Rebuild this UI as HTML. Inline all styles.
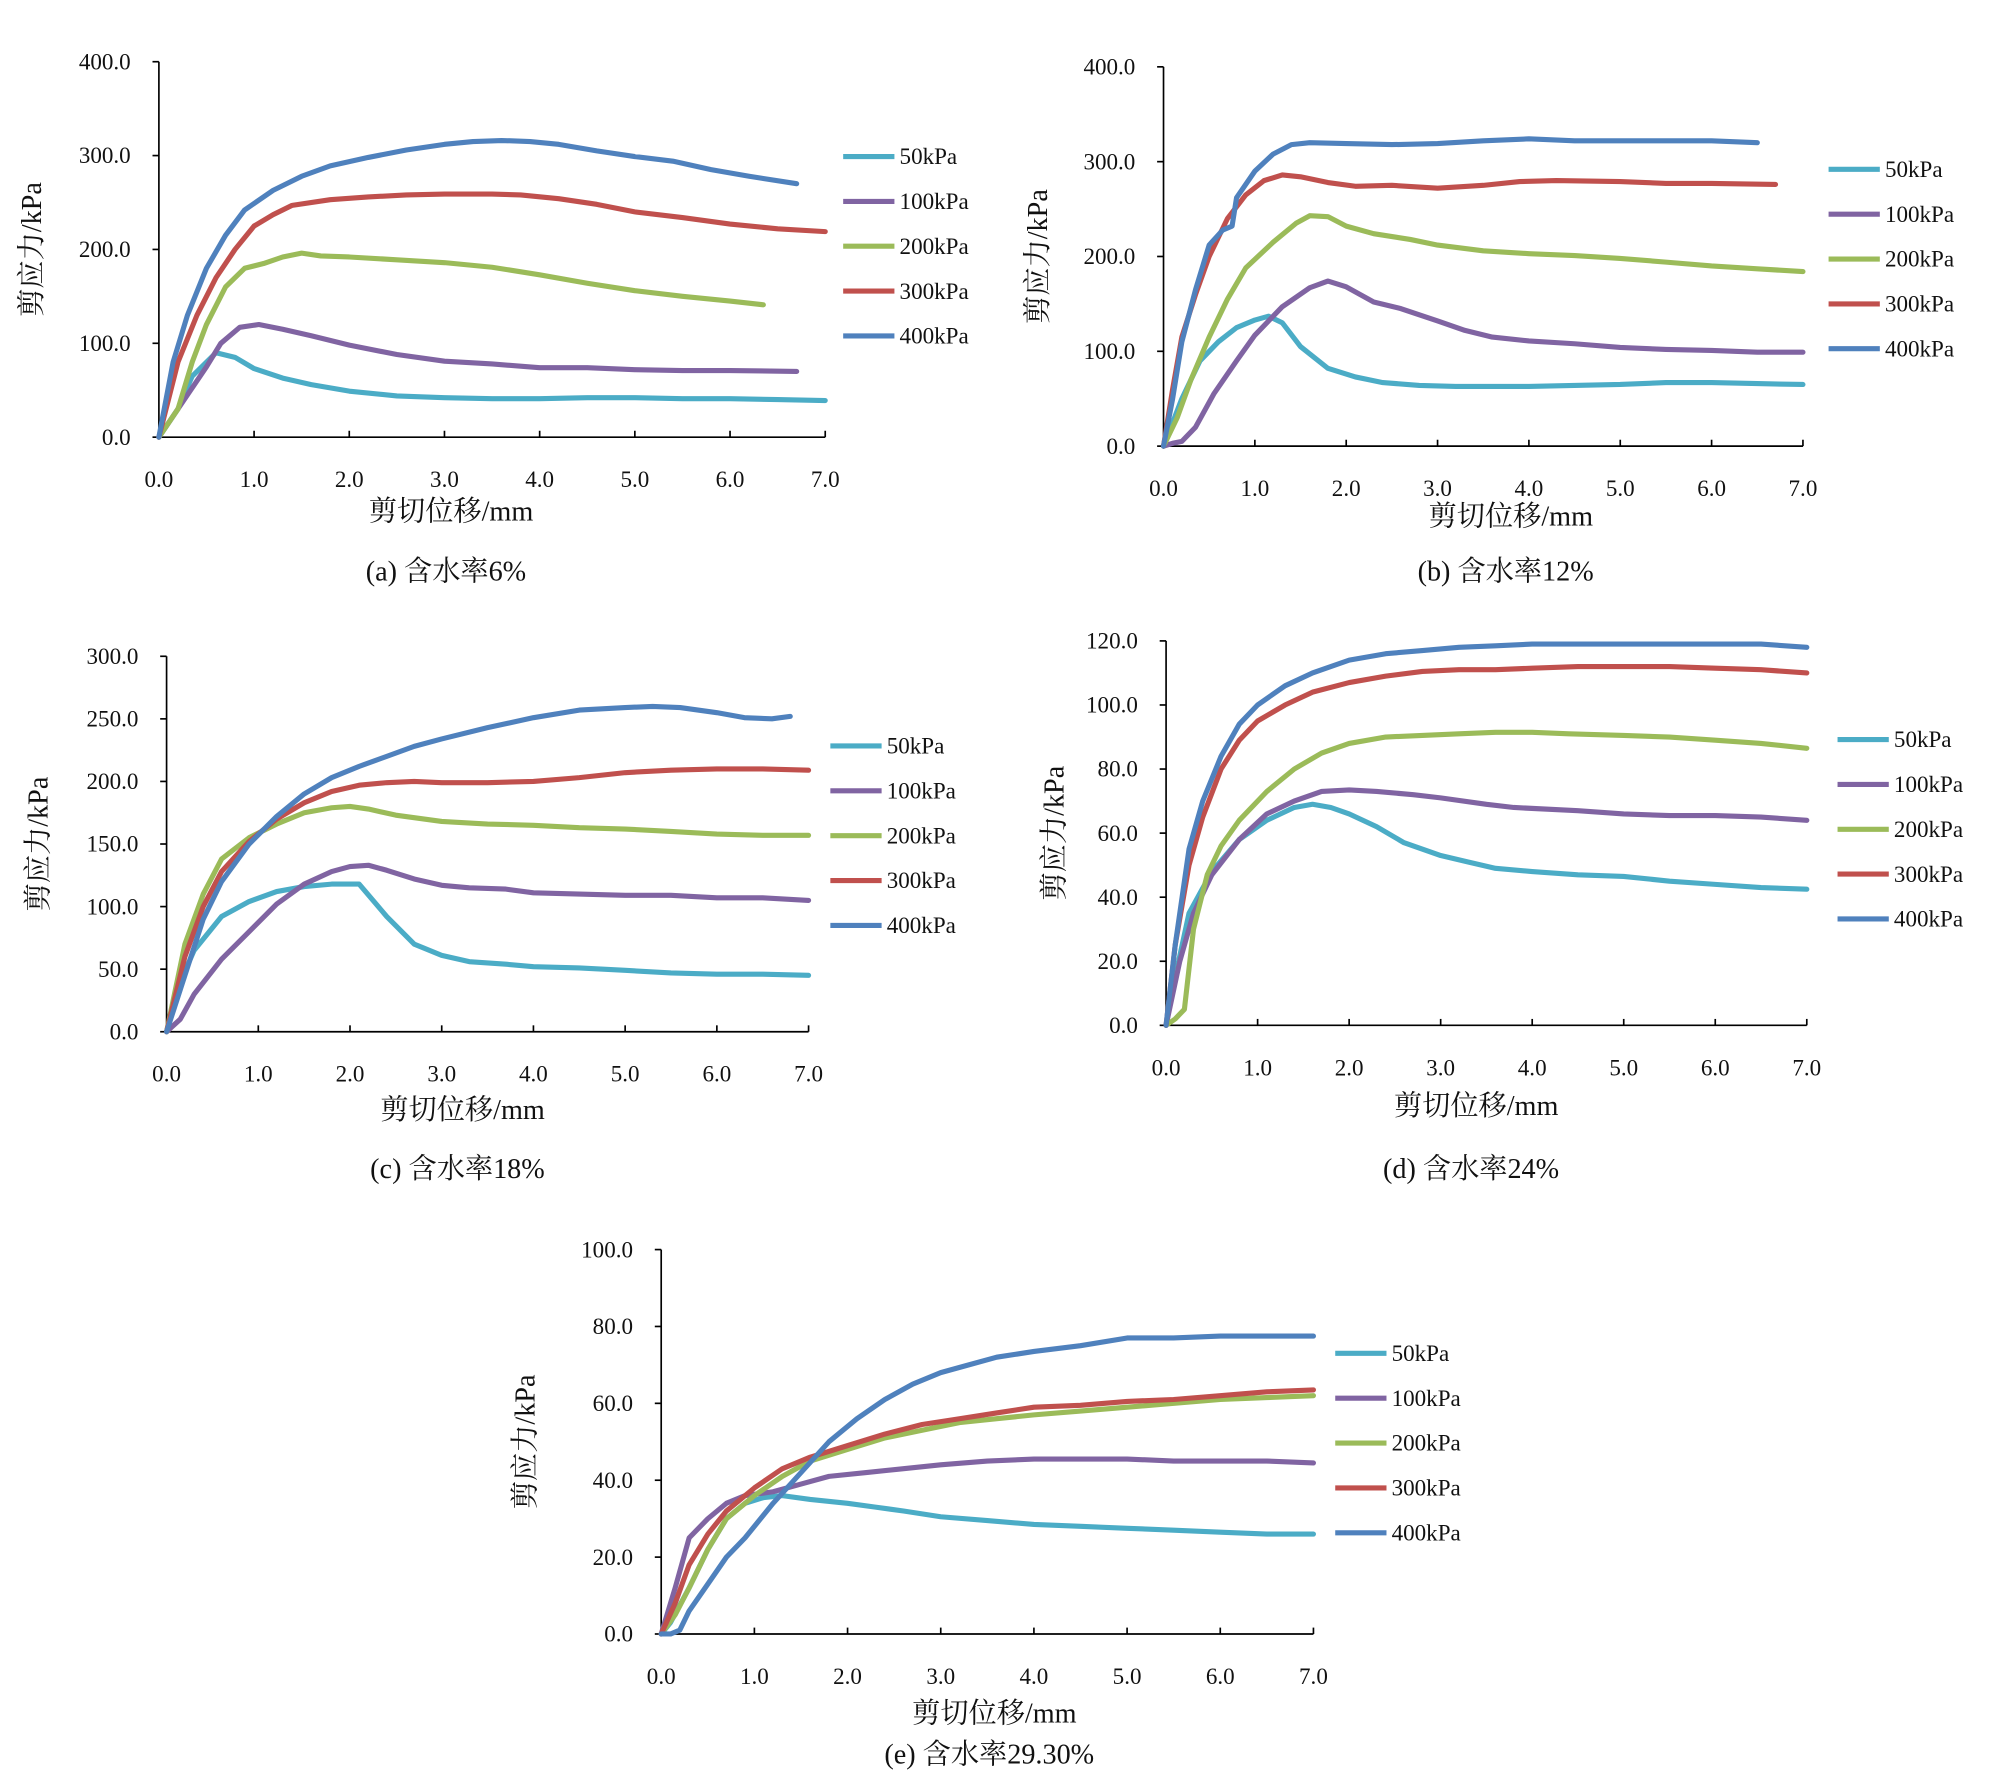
<!DOCTYPE html>
<html><head><meta charset="utf-8"><style>
html,body{margin:0;padding:0;background:#fff}
svg{display:block}
text{font-family:"Liberation Serif","Noto Serif CJK SC","Noto Sans CJK SC",serif;fill:#111}
</style></head><body>
<svg id="fig" width="1999" height="1779" viewBox="0 0 1560 1388" xmlns="http://www.w3.org/2000/svg"></svg>
<script>
const seriesNames=["50kPa","100kPa","200kPa","300kPa","400kPa"];
const seriesColors=["#4bacc6","#8064a2","#9bbb59","#c0504d","#4f81bd"];
const xTicks=[0,1,2,3,4,5,6,7];
const a50=[[0,0],[0.2,30],[0.35,65],[0.6,90],[0.8,85],[1.0,73],[1.3,63],[1.6,56],[2.0,49],[2.5,44],[3.0,42],[3.5,41],[4.0,41],[4.5,42],[5.0,42],[5.5,41],[6.0,41],[6.5,40],[7.0,39]];
const a100=[[0,0],[0.3,45],[0.5,75],[0.65,100],[0.85,117],[1.05,120],[1.3,115],[1.6,108],[2.0,98],[2.5,88],[3.0,81],[3.5,78],[4.0,74],[4.5,74],[5.0,72],[5.5,71],[6.0,71],[6.7,70]];
const a200=[[0,0],[0.2,30],[0.35,80],[0.5,120],[0.7,160],[0.9,180],[1.1,185],[1.3,192],[1.5,196],[1.7,193],[2.0,192],[2.5,189],[3.0,186],[3.5,181],[4.0,173],[4.5,164],[5.0,156],[5.5,150],[6.0,145],[6.35,141]];
const a300=[[0,0],[0.2,80],[0.4,130],[0.6,170],[0.8,200],[1.0,225],[1.2,237],[1.4,247],[1.8,253],[2.2,256],[2.6,258],[3.0,259],[3.5,259],[3.8,258],[4.2,254],[4.6,248],[5.0,240],[5.5,234],[6.0,227],[6.5,222],[7.0,219]];
const a400=[[0,0],[0.15,80],[0.3,130],[0.5,180],[0.7,215],[0.9,242],[1.2,263],[1.5,278],[1.8,289],[2.2,298],[2.6,306],[3.0,312],[3.3,315],[3.6,316],[3.9,315],[4.2,312],[4.6,305],[5.0,299],[5.4,294],[5.8,285],[6.2,278],[6.7,270]];
const b50=[[0,0],[0.2,50],[0.4,90],[0.6,110],[0.8,125],[1.0,133],[1.15,137],[1.3,130],[1.5,105],[1.8,82],[2.1,73],[2.4,67],[2.8,64],[3.2,63],[3.6,63],[4.0,63],[4.5,64],[5.0,65],[5.5,67],[6.0,67],[6.5,66],[7.0,65]];
const b100=[[0,0],[0.1,3],[0.2,5],[0.35,20],[0.55,55],[0.8,90],[1.0,117],[1.3,147],[1.6,167],[1.8,174],[2.0,168],[2.3,152],[2.6,145],[3.0,132],[3.3,122],[3.6,115],[4.0,111],[4.5,108],[5.0,104],[5.5,102],[6.0,101],[6.5,99],[7.0,99]];
const b200=[[0,0],[0.15,30],[0.3,70],[0.5,115],[0.7,155],[0.9,188],[1.2,215],[1.45,235],[1.6,243],[1.8,242],[2.0,232],[2.3,224],[2.7,218],[3.0,212],[3.5,206],[4.0,203],[4.5,201],[5.0,198],[5.5,194],[6.0,190],[6.5,187],[7.0,184]];
const b300=[[0,0],[0.1,60],[0.2,115],[0.35,160],[0.5,200],[0.7,240],[0.9,265],[1.1,280],[1.3,286],[1.5,284],[1.8,278],[2.1,274],[2.5,275],[3.0,272],[3.5,275],[3.9,279],[4.3,280],[5.0,279],[5.5,277],[6.0,277],[6.7,276]];
const b400=[[0,0],[0.1,50],[0.2,110],[0.35,165],[0.5,212],[0.65,228],[0.75,232],[0.8,262],[1.0,290],[1.2,308],[1.4,318],[1.6,320],[2.0,319],[2.5,318],[3.0,319],[3.5,322],[4.0,324],[4.5,322],[5.0,322],[5.5,322],[6.0,322],[6.5,320]];
const c50=[[0,0],[0.15,40],[0.3,65],[0.6,92],[0.9,104],[1.2,112],[1.5,116],[1.8,118],[2.1,118],[2.4,92],[2.7,70],[3.0,61],[3.3,56],[3.7,54],[4.0,52],[4.5,51],[5.0,49],[5.5,47],[6.0,46],[6.5,46],[7.0,45]];
const c100=[[0,0],[0.15,10],[0.3,30],[0.6,58],[0.9,80],[1.2,102],[1.5,118],[1.8,128],[2.0,132],[2.2,133],[2.4,129],[2.7,122],[3.0,117],[3.3,115],[3.7,114],[4.0,111],[4.5,110],[5.0,109],[5.5,109],[6.0,107],[6.5,107],[7.0,105]];
const c200=[[0,0],[0.2,70],[0.4,110],[0.6,138],[0.9,155],[1.2,166],[1.5,175],[1.8,179],[2.0,180],[2.2,178],[2.5,173],[3.0,168],[3.5,166],[4.0,165],[4.5,163],[5.0,162],[5.5,160],[6.0,158],[6.5,157],[7.0,157]];
const c300=[[0,0],[0.2,60],[0.4,100],[0.6,128],[0.9,152],[1.2,170],[1.5,183],[1.8,192],[2.1,197],[2.4,199],[2.7,200],[3.0,199],[3.5,199],[4.0,200],[4.5,203],[5.0,207],[5.5,209],[6.0,210],[6.5,210],[7.0,209]];
const c400=[[0,0],[0.2,45],[0.4,90],[0.6,120],[0.9,150],[1.2,172],[1.5,190],[1.8,203],[2.1,212],[2.4,220],[2.7,228],[3.0,234],[3.5,243],[4.0,251],[4.5,257],[5.0,259],[5.3,260],[5.6,259],[6.0,255],[6.3,251],[6.6,250],[6.8,252]];
const d50=[[0,0],[0.1,15],[0.25,35],[0.5,48],[0.8,58],[1.1,64],[1.4,68],[1.6,69],[1.8,68],[2.0,66],[2.3,62],[2.6,57],[3.0,53],[3.3,51],[3.6,49],[4.0,48],[4.5,47],[5.0,46.5],[5.5,45],[6.0,44],[6.5,43],[7.0,42.5]];
const d100=[[0,0],[0.15,20],[0.3,35],[0.5,47],[0.8,58],[1.1,66],[1.4,70],[1.7,73],[2.0,73.5],[2.3,73],[2.7,72],[3.0,71],[3.5,69],[3.8,68],[4.5,67],[5.0,66],[5.5,65.5],[6.0,65.5],[6.5,65],[7.0,64]];
const d200=[[0,0],[0.1,2],[0.2,5],[0.3,30],[0.45,47],[0.6,56],[0.8,64],[1.1,73],[1.4,80],[1.7,85],[2.0,88],[2.4,90],[2.8,90.5],[3.2,91],[3.6,91.5],[4.0,91.5],[4.4,91],[5.0,90.5],[5.5,90],[6.0,89],[6.5,88],[7.0,86.5]];
const d300=[[0,0],[0.1,25],[0.25,50],[0.4,65],[0.6,80],[0.8,89],[1.0,95],[1.3,100],[1.6,104],[2.0,107],[2.4,109],[2.8,110.5],[3.2,111],[3.6,111],[4.0,111.5],[4.5,112],[5.0,112],[5.5,112],[6.0,111.5],[6.5,111],[7.0,110]];
const d400=[[0,0],[0.1,25],[0.25,55],[0.4,70],[0.6,84],[0.8,94],[1.0,100],[1.3,106],[1.6,110],[2.0,114],[2.4,116],[2.8,117],[3.2,118],[3.6,118.5],[4.0,119],[5.0,119],[6.0,119],[6.5,119],[7.0,118]];
const e50=[[0,0],[0.1,3],[0.3,12],[0.5,22],[0.7,30],[0.9,34],[1.1,35.5],[1.3,36],[1.6,35],[2.0,34],[2.3,33],[2.6,32],[3.0,30.5],[3.5,29.5],[4.0,28.5],[4.5,28],[5.0,27.5],[5.5,27],[6.0,26.5],[6.5,26],[7.0,26]];
const e100=[[0,0],[0.15,12],[0.3,25],[0.5,30],[0.7,34],[0.9,36],[1.2,37],[1.5,39],[1.8,41],[2.2,42],[2.6,43],[3.0,44],[3.5,45],[4.0,45.5],[5.0,45.5],[5.5,45],[6.0,45],[6.5,45],[7.0,44.5]];
const e200=[[0,0],[0.15,5],[0.3,12],[0.5,22],[0.7,30],[1.0,36],[1.3,41],[1.6,45],[2.0,48],[2.4,51],[2.8,53],[3.2,55],[3.6,56],[4.0,57],[4.5,58],[5.0,59],[5.5,60],[6.0,61],[6.5,61.5],[7.0,62]];
const e300=[[0,0],[0.15,8],[0.3,18],[0.5,26],[0.7,32],[1.0,38],[1.3,43],[1.6,46],[2.0,49],[2.4,52],[2.8,54.5],[3.2,56],[3.6,57.5],[4.0,59],[4.5,59.5],[5.0,60.5],[5.5,61],[6.0,62],[6.5,63],[7.0,63.5]];
const e400=[[0,0],[0.1,0],[0.2,1],[0.3,6],[0.5,13],[0.7,20],[0.9,25],[1.2,34],[1.5,42],[1.8,50],[2.1,56],[2.4,61],[2.7,65],[3.0,68],[3.3,70],[3.6,72],[4.0,73.5],[4.5,75],[5.0,77],[5.5,77],[6.0,77.5],[6.5,77.5],[7.0,77.5]];
const yTicksA=[0,100,200,300,400];
const yTicksB=[0,100,200,300,400];
const yTicksC=[0,50,100,150,200,250,300];
const yTicksD=[0,20,40,60,80,100,120];
const yTicksE=[0,20,40,60,80,100];

const NS="http://www.w3.org/2000/svg";
const svg=document.getElementById('fig');
function mk(tag,attrs,parent,txt){const e=document.createElementNS(NS,tag);for(const k in attrs)e.setAttribute(k,attrs[k]);if(txt!==undefined)e.textContent=txt;parent.appendChild(e);return e;}

const panels=[
 {id:'a',x0:124,x1:644,y0:341,y1:48,ymax:400,yt:yTicksA,data:[a50,a100,a200,a300,a400],legX:658,legY:122,ytX:32,xtY:406,capY:453,capX:348,cap:'(a) 含水率6%'},
 {id:'b',x0:908,x1:1407,y0:348,y1:52,ymax:400,yt:yTicksB,data:[b50,b100,b200,b300,b400],legX:1427,legY:132,ytX:817,xtY:410,capY:453,capX:1175,cap:'(b) 含水率12%'},
 {id:'c',x0:130,x1:631,y0:805,y1:512,ymax:300,yt:yTicksC,data:[c50,c100,c200,c300,c400],legX:648,legY:582,ytX:37,xtY:873,capY:919,capX:357,cap:'(c) 含水率18%'},
 {id:'d',x0:910,x1:1410,y0:800,y1:500,ymax:120,yt:yTicksD,data:[d50,d100,d200,d300,d400],legX:1434,legY:577,ytX:830,xtY:870,capY:919,capX:1148,cap:'(d) 含水率24%'},
 {id:'e',x0:516,x1:1025,y0:1275,y1:975,ymax:100,yt:yTicksE,data:[e50,e100,e200,e300,e400],legX:1042,legY:1056,ytX:417,xtY:1344,capY:1376,capX:772,cap:'(e) 含水率29.30%'}
];

panels.forEach(p=>{
  const g=mk('g',{},svg);
  
  
  const sx=v=>p.x0+(p.x1-p.x0)*v/7;
  const sy=v=>p.y0-(p.y0-p.y1)*v/p.ymax;
  const ya=mk('line',{x1:p.x0,y1:p.y0,x2:p.x0,y2:p.y1,stroke:'#000','stroke-width':1.3},g);
  
  
  const xa=mk('line',{x1:p.x0,y1:p.y0,x2:p.x1,y2:p.y0,stroke:'#000','stroke-width':1.3},g);
  
  
  p.yt.forEach(v=>{
    mk('line',{x1:p.x0-5,y1:sy(v),x2:p.x0,y2:sy(v),stroke:'#000','stroke-width':1.3},g);
    const t=mk('text',{x:p.x0-22,y:sy(v)+6,'text-anchor':'end','font-size':18},g,v.toFixed(1));
    
    
  });
  xTicks.forEach(v=>{
    mk('line',{x1:sx(v),y1:p.y0,x2:sx(v),y2:p.y0-5,stroke:'#000','stroke-width':1.3},g);
    const t=mk('text',{x:sx(v),y:p.y0+39,'text-anchor':'middle','font-size':18},g,v.toFixed(1));
    
    
  });
  p.data.forEach((d,i)=>{
    const pts=d.map(q=>sx(q[0]).toFixed(1)+','+sy(q[1]).toFixed(1)).join(' ');
    const pl=mk('polyline',{points:pts,fill:'none',stroke:seriesColors[i],'stroke-width':4,'stroke-linejoin':'round','stroke-linecap':'round'},g);
    
    
    const ly=p.legY+i*35;
    const ll=mk('line',{x1:p.legX,y1:ly,x2:p.legX+40,y2:ly,stroke:seriesColors[i],'stroke-width':4},g);
    
    
    const lt=mk('text',{x:p.legX+44,y:ly+6,'font-size':18},g,seriesNames[i]);
    
    
  });
  const cy=(p.y0+p.y1)/2;
  const yt=mk('text',{x:p.ytX,y:cy,'text-anchor':'middle','font-size':22,transform:'rotate(-90 '+p.ytX+' '+cy+')'},g,'剪应力/kPa');
  
  
  const xt=mk('text',{x:p.capX+4,y:p.xtY,'text-anchor':'middle','font-size':22},g,'剪切位移/mm');
  
  
  const ct=mk('text',{x:p.capX,y:p.capY,'text-anchor':'middle','font-size':22},g,p.cap);
  
  
});
</script>
</body></html>
